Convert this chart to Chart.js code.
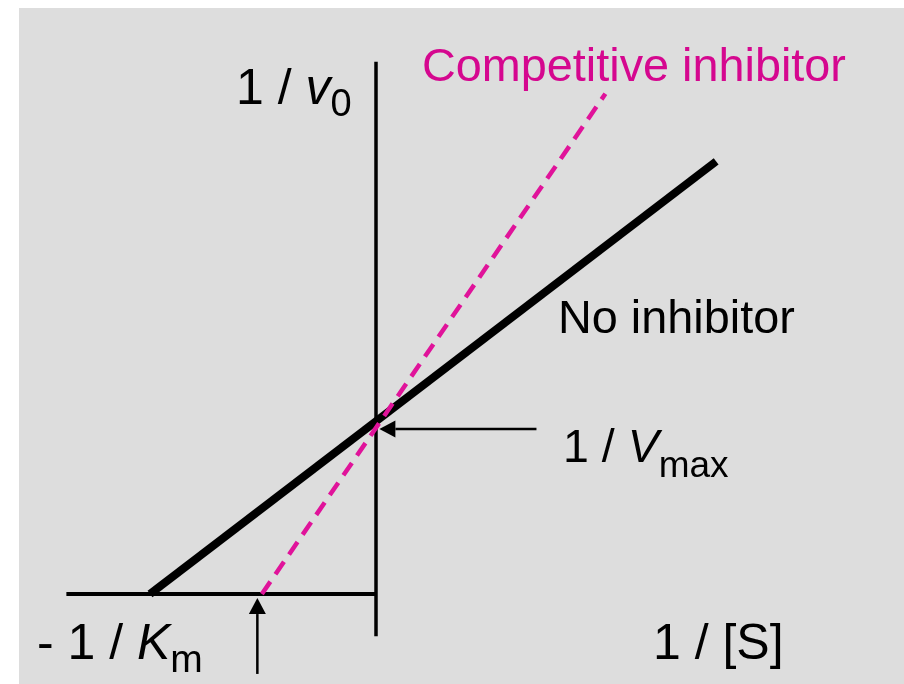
<!DOCTYPE html>
<html><head><meta charset="utf-8">
<script src="https://cdn.jsdelivr.net/npm/chart.js@4/dist/chart.umd.min.js"></script>
<style>html,body{margin:0;padding:0;background:#ffffff;}canvas{display:block;}</style>
</head><body>
<canvas id="c" width="904" height="684"></canvas>
<script>
// ---- data (1/[S] on x, 1/v0 on y) ----
const noInhibitorX = [-2.0, 3.01];
const noInhibitorY = [0.0, 2.56];
const competitiveX = [-1.01, 2.03];
const competitiveY = [0.0, 2.96];
const xAxisX = [-2.74, 0.0];
const xAxisY = [0.0, 0.0];
const yAxisX = [0.0, 0.0];
const yAxisY = [-0.25, 3.15];
// arrows: [from, to] in data units
const vmaxArrowX = [1.42, 0.03];
const vmaxArrowY = [0.976, 0.976];
const kmArrowX = [-1.05, -1.05];
const kmArrowY = [-0.473, -0.024];
// label texts
const labelV0 = ['1 / ', 'v', '0'];
const labelComp = 'Competitive inhibitor';
const labelNoInh = 'No inhibitor';
const labelVmax = ['1 / ', 'V', 'max'];
const labelKm = ['- 1 / ', 'K', 'm'];
const labelS = '1 / [S]';

const XMIN = -376/113, XMAX = (904-376)/113;
const YMAX = 594/169, YMIN = -(684-594)/169;

const pts = (xs, ys) => xs.map((x, i) => ({x, y: ys[i]}));
const MAGENTA = '#d5078f';
const FONT = '"Liberation Sans", Arial, sans-serif';

const bgPlugin = {
  id: 'bg',
  beforeDraw(chart) {
    const c = chart.ctx;
    c.save();
    c.fillStyle = '#ffffff';
    c.fillRect(0, 0, chart.width, chart.height);
    c.fillStyle = '#dddddd';
    c.fillRect(19, 8, chart.width - 19, chart.height - 8);
    c.restore();
  }
};

function arrow(c, sx, sy, xs, ys) {
  const x1 = sx.getPixelForValue(xs[0]), y1 = sy.getPixelForValue(ys[0]);
  const x2 = sx.getPixelForValue(xs[1]), y2 = sy.getPixelForValue(ys[1]);
  const ang = Math.atan2(y2 - y1, x2 - x1);
  const hl = 16, hw = 8.5;
  c.save();
  c.strokeStyle = '#000'; c.fillStyle = '#000'; c.lineWidth = 2.5;
  c.beginPath();
  c.moveTo(x1, y1);
  c.lineTo(x2 - Math.cos(ang) * hl, y2 - Math.sin(ang) * hl);
  c.stroke();
  c.beginPath();
  c.moveTo(x2, y2);
  c.lineTo(x2 - Math.cos(ang) * hl - Math.sin(ang) * hw, y2 - Math.sin(ang) * hl + Math.cos(ang) * hw);
  c.lineTo(x2 - Math.cos(ang) * hl + Math.sin(ang) * hw, y2 - Math.sin(ang) * hl - Math.cos(ang) * hw);
  c.closePath();
  c.fill();
  c.restore();
}

function rich(c, x, y, parts, size, subSize, subDrop, color) {
  c.save();
  c.fillStyle = color;
  c.textBaseline = 'alphabetic';
  c.textAlign = 'left';
  c.font = size + 'px ' + FONT;
  c.fillText(parts[0], x, y);
  x += c.measureText(parts[0]).width;
  c.font = 'italic ' + size + 'px ' + FONT;
  c.fillText(parts[1], x, y);
  x += c.measureText(parts[1]).width;
  c.font = subSize + 'px ' + FONT;
  c.fillText(parts[2], x, y + subDrop);
  c.restore();
}
function plain(c, x, y, text, size, color) {
  c.save();
  c.fillStyle = color;
  c.textBaseline = 'alphabetic';
  c.textAlign = 'left';
  c.font = size + 'px ' + FONT;
  c.fillText(text, x, y);
  c.restore();
}

const annoPlugin = {
  id: 'anno',
  afterDatasetsDraw(chart) {
    const c = chart.ctx, sx = chart.scales.x, sy = chart.scales.y;
    arrow(c, sx, sy, vmaxArrowX, vmaxArrowY);
    arrow(c, sx, sy, kmArrowX, kmArrowY);
    const P = (x, y) => [sx.getPixelForValue(x), sy.getPixelForValue(y)];
    let p;
    p = P(-1.239, 2.899); rich(c, p[0], p[1], labelV0, 50, 38, 12, '#000');
    p = P(0.407, 3.036); plain(c, p[0], p[1], labelComp, 46.8, MAGENTA);
    p = P(1.611, 1.544); plain(c, p[0], p[1], labelNoInh, 46.8, '#000');
    p = P(1.655, 0.781); rich(c, p[0], p[1], labelVmax, 46.5, 37, 15, '#000');
    p = P(-3.0, -0.385); rich(c, p[0], p[1], labelKm, 50, 39, 13, '#000');
    p = P(2.451, -0.385); plain(c, p[0], p[1], labelS, 50, '#000');
  }
};

new Chart(document.getElementById('c'), {
  type: 'scatter',
  data: {
    datasets: [
      { data: pts(competitiveX, competitiveY), showLine: true, borderColor: '#e0139a', borderWidth: 4.5, borderDash: [15, 9], pointRadius: 0, order: 0 },
      { data: pts(noInhibitorX, noInhibitorY), showLine: true, borderColor: '#000', borderWidth: 8, pointRadius: 0, order: 1 },
      { data: pts(xAxisX, xAxisY), showLine: true, borderColor: '#000', borderWidth: 4, pointRadius: 0, order: 2 },
      { data: pts(yAxisX, yAxisY), showLine: true, borderColor: '#000', borderWidth: 3.5, pointRadius: 0, order: 3 }
    ]
  },
  options: {
    responsive: false,
    animation: false,
    events: [],
    layout: { padding: 0 },
    plugins: { legend: { display: false }, tooltip: { enabled: false }, title: { display: false } },
    scales: {
      x: { type: 'linear', min: XMIN, max: XMAX, display: false },
      y: { type: 'linear', min: YMIN, max: YMAX, display: false }
    }
  },
  plugins: [bgPlugin, annoPlugin]
});
</script>
</body></html>
